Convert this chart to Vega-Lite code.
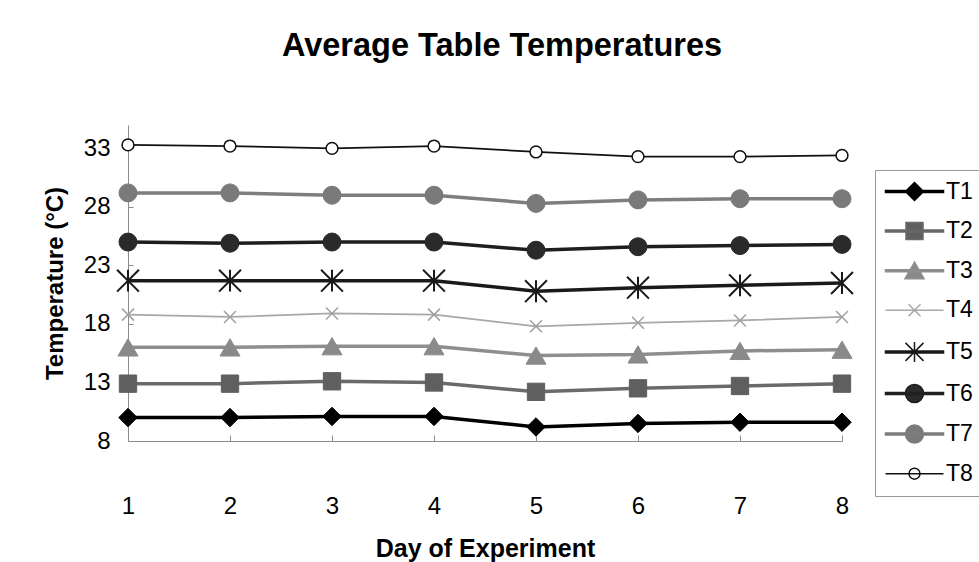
{
  "$schema": "https://vega.github.io/schema/vega-lite/v6.json",
  "width": 714,
  "height": 316,
  "autosize": {"type": "none"},
  "padding": {"left": 128, "top": 125, "right": 137, "bottom": 121},
  "background": "white",
  "config": {"view": {"stroke": null}, "font": "Liberation Sans"},
  "title": {"text": "Average Table Temperatures", "fontSize": 32.5, "fontWeight": "bold", "font": "Liberation Sans", "color": "black", "anchor": "middle", "frame": "group", "baseline": "alphabetic", "offset": 37, "dx": 17},
  "data": {"values": [
    {"series": "T1", "day": 1, "temp": 10.0}, {"series": "T1", "day": 2, "temp": 10.0}, {"series": "T1", "day": 3, "temp": 10.1}, {"series": "T1", "day": 4, "temp": 10.1},
    {"series": "T1", "day": 5, "temp": 9.2}, {"series": "T1", "day": 6, "temp": 9.5}, {"series": "T1", "day": 7, "temp": 9.6}, {"series": "T1", "day": 8, "temp": 9.6},
    {"series": "T2", "day": 1, "temp": 12.9}, {"series": "T2", "day": 2, "temp": 12.9}, {"series": "T2", "day": 3, "temp": 13.1}, {"series": "T2", "day": 4, "temp": 13.0},
    {"series": "T2", "day": 5, "temp": 12.2}, {"series": "T2", "day": 6, "temp": 12.5}, {"series": "T2", "day": 7, "temp": 12.7}, {"series": "T2", "day": 8, "temp": 12.9},
    {"series": "T3", "day": 1, "temp": 16.0}, {"series": "T3", "day": 2, "temp": 16.0}, {"series": "T3", "day": 3, "temp": 16.1}, {"series": "T3", "day": 4, "temp": 16.1},
    {"series": "T3", "day": 5, "temp": 15.3}, {"series": "T3", "day": 6, "temp": 15.4}, {"series": "T3", "day": 7, "temp": 15.7}, {"series": "T3", "day": 8, "temp": 15.8},
    {"series": "T4", "day": 1, "temp": 18.8}, {"series": "T4", "day": 2, "temp": 18.6}, {"series": "T4", "day": 3, "temp": 18.9}, {"series": "T4", "day": 4, "temp": 18.8},
    {"series": "T4", "day": 5, "temp": 17.8}, {"series": "T4", "day": 6, "temp": 18.1}, {"series": "T4", "day": 7, "temp": 18.3}, {"series": "T4", "day": 8, "temp": 18.6},
    {"series": "T5", "day": 1, "temp": 21.7}, {"series": "T5", "day": 2, "temp": 21.7}, {"series": "T5", "day": 3, "temp": 21.7}, {"series": "T5", "day": 4, "temp": 21.7},
    {"series": "T5", "day": 5, "temp": 20.8}, {"series": "T5", "day": 6, "temp": 21.1}, {"series": "T5", "day": 7, "temp": 21.3}, {"series": "T5", "day": 8, "temp": 21.5},
    {"series": "T6", "day": 1, "temp": 25.0}, {"series": "T6", "day": 2, "temp": 24.9}, {"series": "T6", "day": 3, "temp": 25.0}, {"series": "T6", "day": 4, "temp": 25.0},
    {"series": "T6", "day": 5, "temp": 24.3}, {"series": "T6", "day": 6, "temp": 24.6}, {"series": "T6", "day": 7, "temp": 24.7}, {"series": "T6", "day": 8, "temp": 24.8},
    {"series": "T7", "day": 1, "temp": 29.2}, {"series": "T7", "day": 2, "temp": 29.2}, {"series": "T7", "day": 3, "temp": 29.0}, {"series": "T7", "day": 4, "temp": 29.0},
    {"series": "T7", "day": 5, "temp": 28.3}, {"series": "T7", "day": 6, "temp": 28.6}, {"series": "T7", "day": 7, "temp": 28.7}, {"series": "T7", "day": 8, "temp": 28.7},
    {"series": "T8", "day": 1, "temp": 33.3}, {"series": "T8", "day": 2, "temp": 33.2}, {"series": "T8", "day": 3, "temp": 33.0}, {"series": "T8", "day": 4, "temp": 33.2},
    {"series": "T8", "day": 5, "temp": 32.7}, {"series": "T8", "day": 6, "temp": 32.3}, {"series": "T8", "day": 7, "temp": 32.3}, {"series": "T8", "day": 8, "temp": 32.4}
  ]},
  "encoding": {
    "x": {"field": "day", "type": "quantitative",
      "scale": {"domain": [1, 8], "nice": false, "zero": false},
      "axis": {"values": [1, 2, 3, 4, 5, 6, 7, 8], "format": "d", "title": "Day of Experiment", "grid": false,
        "labelFont": "Liberation Sans", "labelFontSize": 24, "labelColor": "black", "labelPadding": 59, "labelFlush": false, "labelOverlap": false,
        "tickSize": -6, "tickColor": "#8c8c8c", "domainColor": "#8c8c8c",
        "titleFont": "Liberation Sans", "titleFontSize": 25, "titleFontWeight": "bold", "titleColor": "black", "titlePadding": 18}},
    "y": {"field": "temp", "type": "quantitative",
      "scale": {"domain": [8, 35], "nice": false, "zero": false},
      "axis": {"values": [8, 13, 18, 23, 28, 33], "title": "Temperature (°C)", "grid": false,
        "labelFont": "Liberation Sans", "labelFontSize": 24, "labelColor": "black", "labelPadding": 23, "labelFlush": false, "labelOverlap": false,
        "tickSize": -5, "tickColor": "#8c8c8c", "domainColor": "#8c8c8c",
        "titleFont": "Liberation Sans", "titleFontSize": 24, "titleFontWeight": "bold", "titleColor": "black", "titlePadding": 16}}
  },
  "layer": [
    {
      "mark": {"type": "line", "strokeCap": "butt"},
      "encoding": {
        "detail": {"field": "series", "type": "nominal"},
        "stroke": {"field": "series", "type": "nominal", "legend": null,
          "scale": {"domain": ["T1", "T2", "T3", "T4", "T5", "T6", "T7", "T8"],
            "range": ["#000000", "#6a6a6a", "#8e8e8e", "#a8a8a8", "#1a1a1a", "#1e1e1e", "#7e7e7e", "#111111"]}},
        "strokeWidth": {"field": "series", "type": "nominal", "legend": null,
          "scale": {"type": "ordinal", "domain": ["T1", "T2", "T3", "T4", "T5", "T6", "T7", "T8"],
            "range": [3.5, 3.5, 3.5, 1.8, 3.5, 3.5, 3.5, 1.8]}}
      }
    },
    {
      "mark": {"type": "point", "filled": true, "opacity": 1},
      "encoding": {
        "shape": {"field": "series", "type": "nominal", "legend": null,
          "scale": {"domain": ["T1", "T2", "T3", "T4", "T5", "T6", "T7", "T8"],
            "range": ["diamond", "square", "triangle-up", "M-1,-1L1,1M1,-1L-1,1", "M-1,-1L1,1M1,-1L-1,1M0,-1V1", "circle", "circle", "circle"]}},
        "fill": {"field": "series", "type": "nominal", "legend": null,
          "scale": {"domain": ["T1", "T2", "T3", "T4", "T5", "T6", "T7", "T8"],
            "range": ["#000000", "#5f5f5f", "#8a8a8a", "#a0a0a0", "#1a1a1a", "#2a2a2a", "#7a7a7a", "#ffffff"]}},
        "stroke": {"field": "series", "type": "nominal", "legend": null,
          "scale": {"domain": ["T1", "T2", "T3", "T4", "T5", "T6", "T7", "T8"],
            "range": ["#000000", "#5f5f5f", "#8a8a8a", "#a0a0a0", "#1a1a1a", "#2a2a2a", "#7a7a7a", "#111111"]}},
        "size": {"field": "series", "type": "nominal", "legend": null,
          "scale": {"type": "ordinal", "domain": ["T1", "T2", "T3", "T4", "T5", "T6", "T7", "T8"],
            "range": [340, 300, 400, 144, 480, 324, 324, 140]}},
        "strokeWidth": {"field": "series", "type": "nominal", "legend": null,
          "scale": {"type": "ordinal", "domain": ["T1", "T2", "T3", "T4", "T5", "T6", "T7", "T8"],
            "range": [1, 1, 1, 1.5, 2, 1, 1, 1.5]}}
      }
    },
    {
      "transform": [{"filter": "datum.day > 99"}],
      "mark": {"type": "point", "filled": true, "opacity": 1, "strokeWidth": 1.5},
      "encoding": {
        "shape": {"field": "series", "type": "nominal",
          "scale": {"domain": ["T1", "T2", "T3", "T4", "T5", "T6", "T7", "T8"],
            "range": [
              "M-2.9,-0.1H2.9V0.1H-2.9Z M0,-0.9L0.9,0L0,0.9L-0.9,0Z",
              "M-2.9,-0.1H2.9V0.1H-2.9Z M-0.85,-0.85H0.85V0.85H-0.85Z",
              "M-2.9,-0.1H2.9V0.1H-2.9Z M0,-0.85L0.95,0.8H-0.95Z",
              "M-2.9,0H2.9M-0.6,-0.6L0.6,0.6M0.6,-0.6L-0.6,0.6",
              "M-2.9,-0.1H2.9V0.1H-2.9Z M-0.9,-0.9L0.9,0.9M0.9,-0.9L-0.9,0.9M0,-1V1",
              "M-2.9,-0.1H2.9V0.1H-2.9Z M-0.9,0A0.9,0.9,0,1,1,0.9,0A0.9,0.9,0,1,1,-0.9,0Z",
              "M-2.9,-0.1H2.9V0.1H-2.9Z M-0.9,0A0.9,0.9,0,1,1,0.9,0A0.9,0.9,0,1,1,-0.9,0Z",
              "M-2.9,0H2.9M-0.55,0A0.55,0.55,0,1,1,0.55,0A0.55,0.55,0,1,1,-0.55,0Z"]},
          "legend": {"title": null, "orient": "none", "legendX": 747, "legendY": 45, "padding": 10, "strokeColor": "#999999", "fillColor": "white",
            "symbolSize": 400, "symbolStrokeWidth": 1.5, "symbolOffset": 18, "labelOffset": 20, "labelFont": "Liberation Sans", "labelFontSize": 23, "labelColor": "black", "rowPadding": 15.6}},
        "fill": {"field": "series", "type": "nominal",
          "scale": {"domain": ["T1", "T2", "T3", "T4", "T5", "T6", "T7", "T8"],
            "range": ["#000000", "#5f5f5f", "#8a8a8a", "#a8a8a8", "#1a1a1a", "#2a2a2a", "#7a7a7a", "#ffffff"]},
          "legend": {"title": null, "orient": "none", "legendX": 747, "legendY": 45, "padding": 10, "strokeColor": "#999999", "fillColor": "white",
            "symbolSize": 400, "symbolStrokeWidth": 1.5, "symbolOffset": 18, "labelOffset": 20, "labelFont": "Liberation Sans", "labelFontSize": 23, "labelColor": "black", "rowPadding": 15.6}},
        "stroke": {"field": "series", "type": "nominal",
          "scale": {"domain": ["T1", "T2", "T3", "T4", "T5", "T6", "T7", "T8"],
            "range": ["#000000", "#6a6a6a", "#8e8e8e", "#a8a8a8", "#1a1a1a", "#1e1e1e", "#7e7e7e", "#111111"]},
          "legend": {"title": null, "orient": "none", "legendX": 747, "legendY": 45, "padding": 10, "strokeColor": "#999999", "fillColor": "white",
            "symbolSize": 400, "symbolStrokeWidth": 1.5, "symbolOffset": 18, "labelOffset": 20, "labelFont": "Liberation Sans", "labelFontSize": 23, "labelColor": "black", "rowPadding": 15.6}}
      }
    }
  ],
  "resolve": {"scale": {"stroke": "independent", "fill": "independent", "shape": "independent", "size": "independent", "strokeWidth": "independent"}}
}
